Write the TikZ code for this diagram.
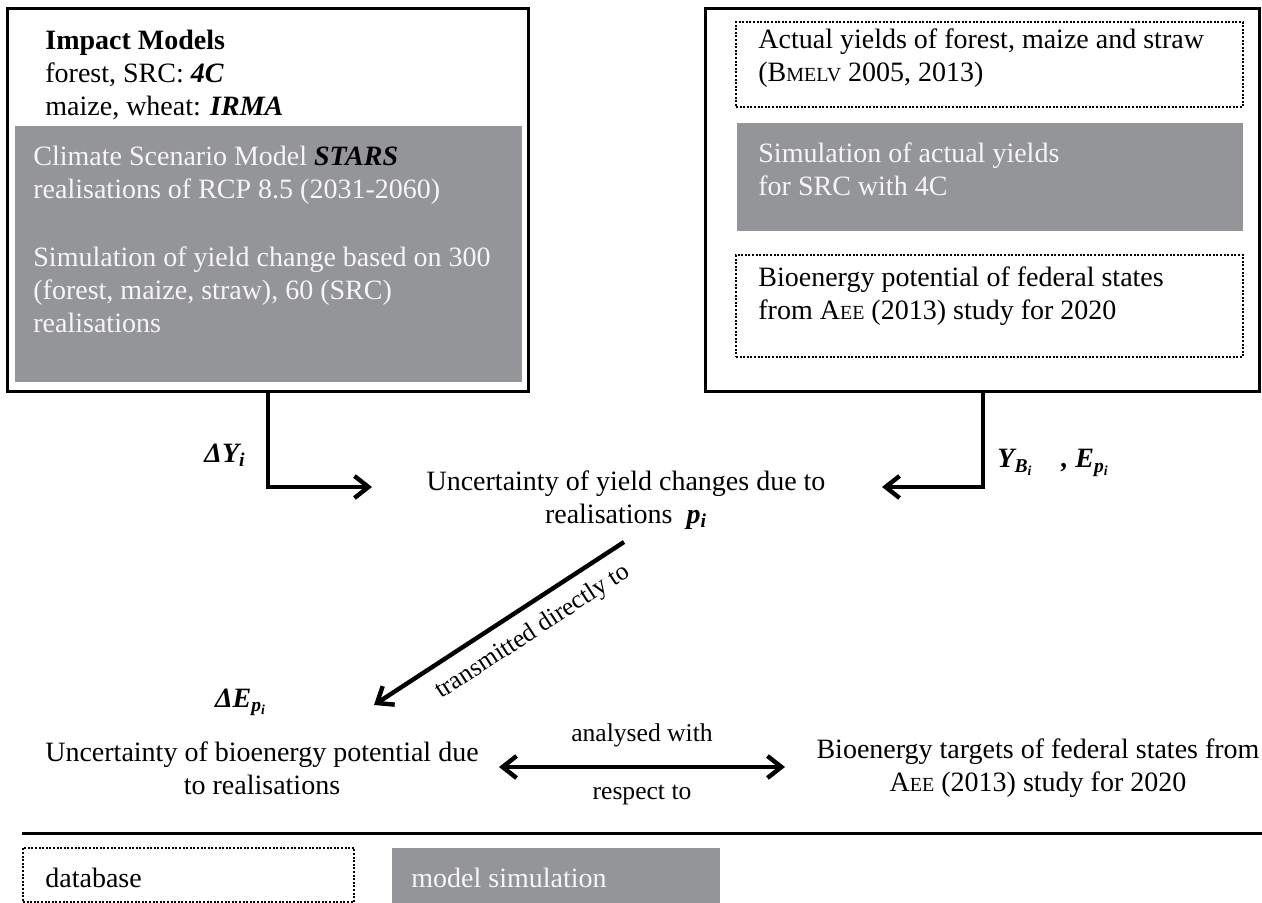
\documentclass[tikz,border=0pt]{standalone}
\usepackage{fontspec}
\setmainfont{Liberation Serif}
\usetikzlibrary{arrows.meta,calc}
\definecolor{simgray}{RGB}{148,149,152}
\definecolor{simtext}{RGB}{246,246,246}
\newcommand\fsc[1]{{\fontsize{10}{11}\selectfont #1}}
\begin{document}
\begin{tikzpicture}[x=0.5pt,y=-0.5pt,
  every node/.style={font=\fontsize{14}{16.5}\selectfont},
  frame/.style={draw, line width=1.5pt, inner sep=0pt},
  dbox/.style={draw, line width=1.4pt, dash pattern=on 1pt off 0.8pt, inner sep=0pt},
  sbox/.style={fill=simgray, inner sep=0pt},
  txt/.style={align=left, inner sep=0pt, anchor=west},
  gtxt/.style={txt, text=simtext},
  ctxt/.style={align=center, inner sep=0pt},
  lbl/.style={inner sep=0pt, font=\fontsize{14}{16}\selectfont\bfseries\itshape},
  small/.style={inner sep=0pt, font=\fontsize{12.8}{15}\selectfont},
  arr/.style={line width=2.2pt, -{Straight Barb[length=7pt,width=11pt]}},
  darr/.style={line width=2.2pt, {Straight Barb[length=7pt,width=11pt]}-{Straight Barb[length=7pt,width=11pt]}},
  rulestyle/.style={line width=1.5pt}]
\useasboundingbox (0,0) rectangle (1262,903);

% left box
\node[frame, minimum width=260.5pt, minimum height=191pt] (leftbox) at (267.5,200) {};
\node[sbox, minimum width=253.5pt, minimum height=128pt] (leftsim) at (268.5,254) {};
\node[txt] (impact) at (45,74.5) {\textbf{Impact Models}\\forest, SRC: \textbf{\textit{4C}}\\maize, wheat: \textbf{\textit{IRMA}}};
\node[gtxt] (climate) at (33,175) {Climate Scenario Model \textcolor{black}{\textbf{\textit{STARS}}}\\realisations of RCP 8.5 (2031-2060)};
\node[gtxt] (simyield) at (33,290) {Simulation of yield change based on 300\\(forest, maize, straw), 60 (SRC)\\realisations};

% right box
\node[frame, minimum width=277pt, minimum height=191pt] (rightbox) at (982,200) {};
\node[dbox, minimum width=253.5pt, minimum height=42.5pt] (actualbox) at (989.5,64.5) {};
\node[txt] (actual) at (758,58.5) {Actual yields of forest, maize and straw\\(B\fsc{MELV} 2005, 2013)};
\node[sbox, minimum width=253pt, minimum height=54pt] (rightsim) at (990,177) {};
\node[gtxt] (simactual) at (758,169.5) {Simulation of actual yields\\for SRC with 4C};
\node[dbox, minimum width=253.5pt, minimum height=51pt] (potbox) at (989.5,306) {};
\node[txt] (potential) at (758,296.5) {Bioenergy potential of federal states\\from A\fsc{EE} (2013) study for 2020};

% centre
\node[ctxt] (yc) at (626,500) {Uncertainty of yield changes due to\\realisations\ \ \textbf{\textit{p}\textsubscript{\textit{i}}}};
\coordinate (ycL) at (372,487);
\coordinate (ycR) at (882,487);
\node[lbl] (dY) at (225,455) {ΔY\textsubscript{i}};
\node[lbl, anchor=west] (YE) at (997,463) {Y\textsubscript{B\textsubscript{i}}\quad, E\textsubscript{p\textsubscript{i}}};
\draw[arr] (leftbox.south -| 268,0) |- (ycL);
\draw[arr] (rightbox.south -| 983,0) |- (ycR);

% bottom
\node[ctxt] (bl) at (262,768.5) {Uncertainty of bioenergy potential due\\to realisations};
\node[ctxt] (br) at (1038,768.5) {Bioenergy targets of federal states from\\A\fsc{EE} (2013) study for 2020};
\node[lbl] (dE) at (241,702) {ΔE\textsubscript{p\textsubscript{i}}};
\coordinate (dstart) at (624,542);
\coordinate (dend) at (374,705);
\draw[arr] (dstart) -- node[small, pos=0.42, sloped, below=6pt] (trans) {transmitted directly to} (dend);
\draw[darr] (499,767) -- node[small, above=9pt] (an) {analysed with} node[small, below=8pt] (resp) {respect to} (785,767);

% legend
\draw[rulestyle] (22,833) -- (1262,833);
\node[dbox, minimum width=165.5pt, minimum height=27pt] (legdb) at (188.5,875) {};
\node[txt] (legdbt) at (45,878) {database};
\node[sbox, minimum width=164pt, minimum height=27.5pt] (legsim) at (556,875.5) {};
\node[gtxt] (legsimt) at (411,878) {model simulation};
\end{tikzpicture}
\end{document}
